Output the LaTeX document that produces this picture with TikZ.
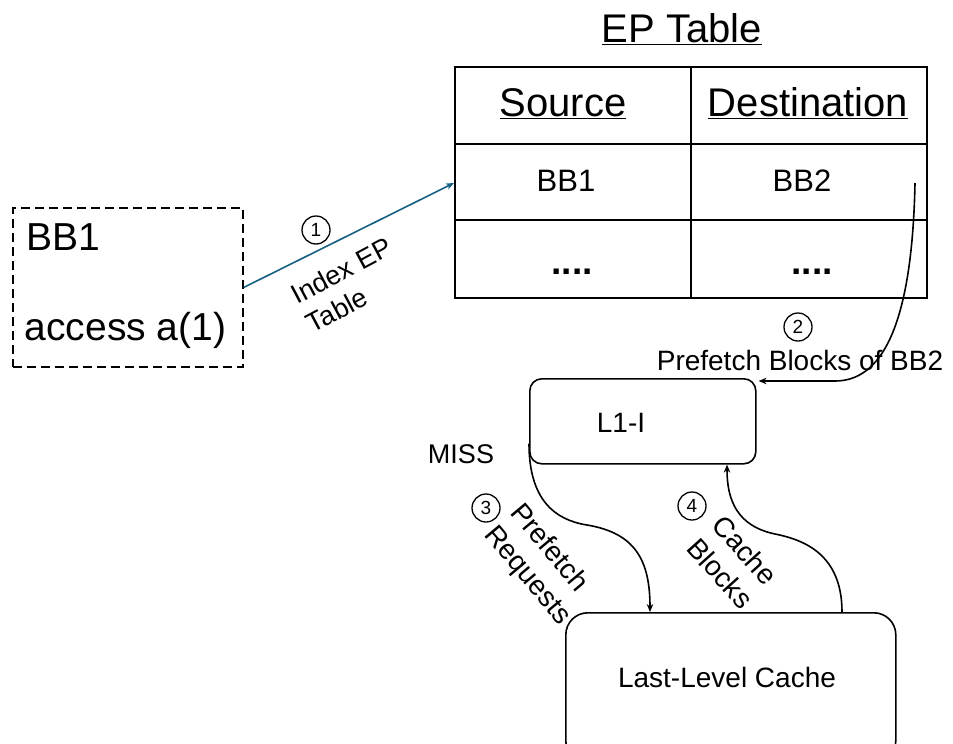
\documentclass[tikz,border=0pt]{standalone}
\usepackage{fontspec}
\setmainfont{Liberation Sans}
\usetikzlibrary{arrows.meta,calc}
\definecolor{arrowblue}{HTML}{156082}
\begin{document}
\begin{tikzpicture}[x=1pt,y=-1pt,line width=1.6pt,
  fa/.style={inner sep=0pt,font=\fontsize{40}{48}\selectfont},
  fb/.style={inner sep=0pt,font=\fontsize{39}{47}\selectfont},
  fc/.style={inner sep=0pt,font=\fontsize{31}{37}\selectfont},
  fdots/.style={inner sep=0pt,font=\fontsize{37}{44}\selectfont\bfseries},
  fd/.style={inner sep=0pt,font=\fontsize{28}{34}\selectfont},
  fe/.style={inner sep=0pt,font=\fontsize{27}{33}\selectfont},
  num/.style={draw,circle,minimum size=28pt,inner sep=0pt,line width=1.3pt,font=\fontsize{19}{22}\selectfont},
  arr/.style={-{Stealth[length=8pt,width=6.5pt]}},
  boxr/.style={draw,inner sep=0pt,anchor=north west}]
\clip (0,0) rectangle (953,744);
\useasboundingbox (0,0) rectangle (953,744);

% title
\node[fa,anchor=base] (title) at (682,42) {\underline{EP Table}};

% table
\node[boxr,minimum width=472pt,minimum height=231pt] (tab) at (454,66) {};
\draw (tab.west |- 0,144) -- (tab.east |- 0,144);
\draw (tab.west |- 0,220) -- (tab.east |- 0,220);
\draw (691,0 |- tab.north) -- (691,0 |- tab.south);
\node[fa,anchor=base] (src) at (563,116) {\underline{Source}};
\node[fa,anchor=base] (dst) at (808,116) {\underline{Destination}};
\node[fc] (bb1t) at (566,181) {BB1};
\node[fc] (bb2t) at (802,181) {BB2};
\node[fdots,anchor=base] (d1) at (572,274) {....};
\node[fdots,anchor=base] (d2) at (812,274) {....};

% dashed block
\node[boxr,line width=1.8pt,dash pattern=on 9pt off 5pt,minimum width=230pt,minimum height=159pt] (bb) at (12,207) {};
\node[fb,anchor=base west] (bbl) at (26,250) {BB1};
\node[fb,anchor=base west] (acc) at (24,340) {access a(1)};

% arrow 1
\coordinate (t1) at (454,183);
\draw[arr,arrowblue] (bb.east) -- (t1);
\node[num] (c1) at (316,230) {1};
\node[fe,rotate=28,align=left] (lab1) at (349,285) {Index EP\\Table};

% L1-I
\node[boxr,rounded corners=12pt,minimum width=226pt,minimum height=85pt] (l1) at (529,378) {};
\node[fd] (l1t) at (621,423) {L1-I};
\node[fe] (miss) at (461,454) {MISS};

% arrow 2
\coordinate (a2s) at (915,183);
\draw[arr] (a2s) .. controls (912,330) and (880,381) .. (835,381) -- ($(l1.north east)+(2,3)$);
\node[num] (c2) at (798,327) {2};
\node[fd] (lab2) at (800,360) {Prefetch Blocks of BB2};

% LLC
\node[boxr,rounded corners=22pt,minimum width=330pt,minimum height=150pt] (llc) at (565,612) {};
\node[fd] (llct) at (727,677) {Last-Level Cache};

% arrow 3
\draw[arr] ($(l1.south west)+(0,-21)$) .. controls (529,500) and (555,520) .. (587,525)
  .. controls (635,533) and (650,560) .. ($(llc.north west)+(85,0)$);
\node[num] (c3) at (486,508) {3};
\node[fd,rotate=-50,align=left] (lab3) at (540,565) {Prefetch\\Requests};

% arrow 4
\draw[arr] ($(llc.north west)+(277,0)$) .. controls (842,555) and (805,540) .. (775,534)
  .. controls (737,526) and (727,500) .. ($(l1.south west)+(198,0)$);
\node[num] (c4) at (692,506) {4};
\node[fd,rotate=-48,align=left] (lab4) at (733,562) {Cache\\Blocks};
\end{tikzpicture}
\end{document}
